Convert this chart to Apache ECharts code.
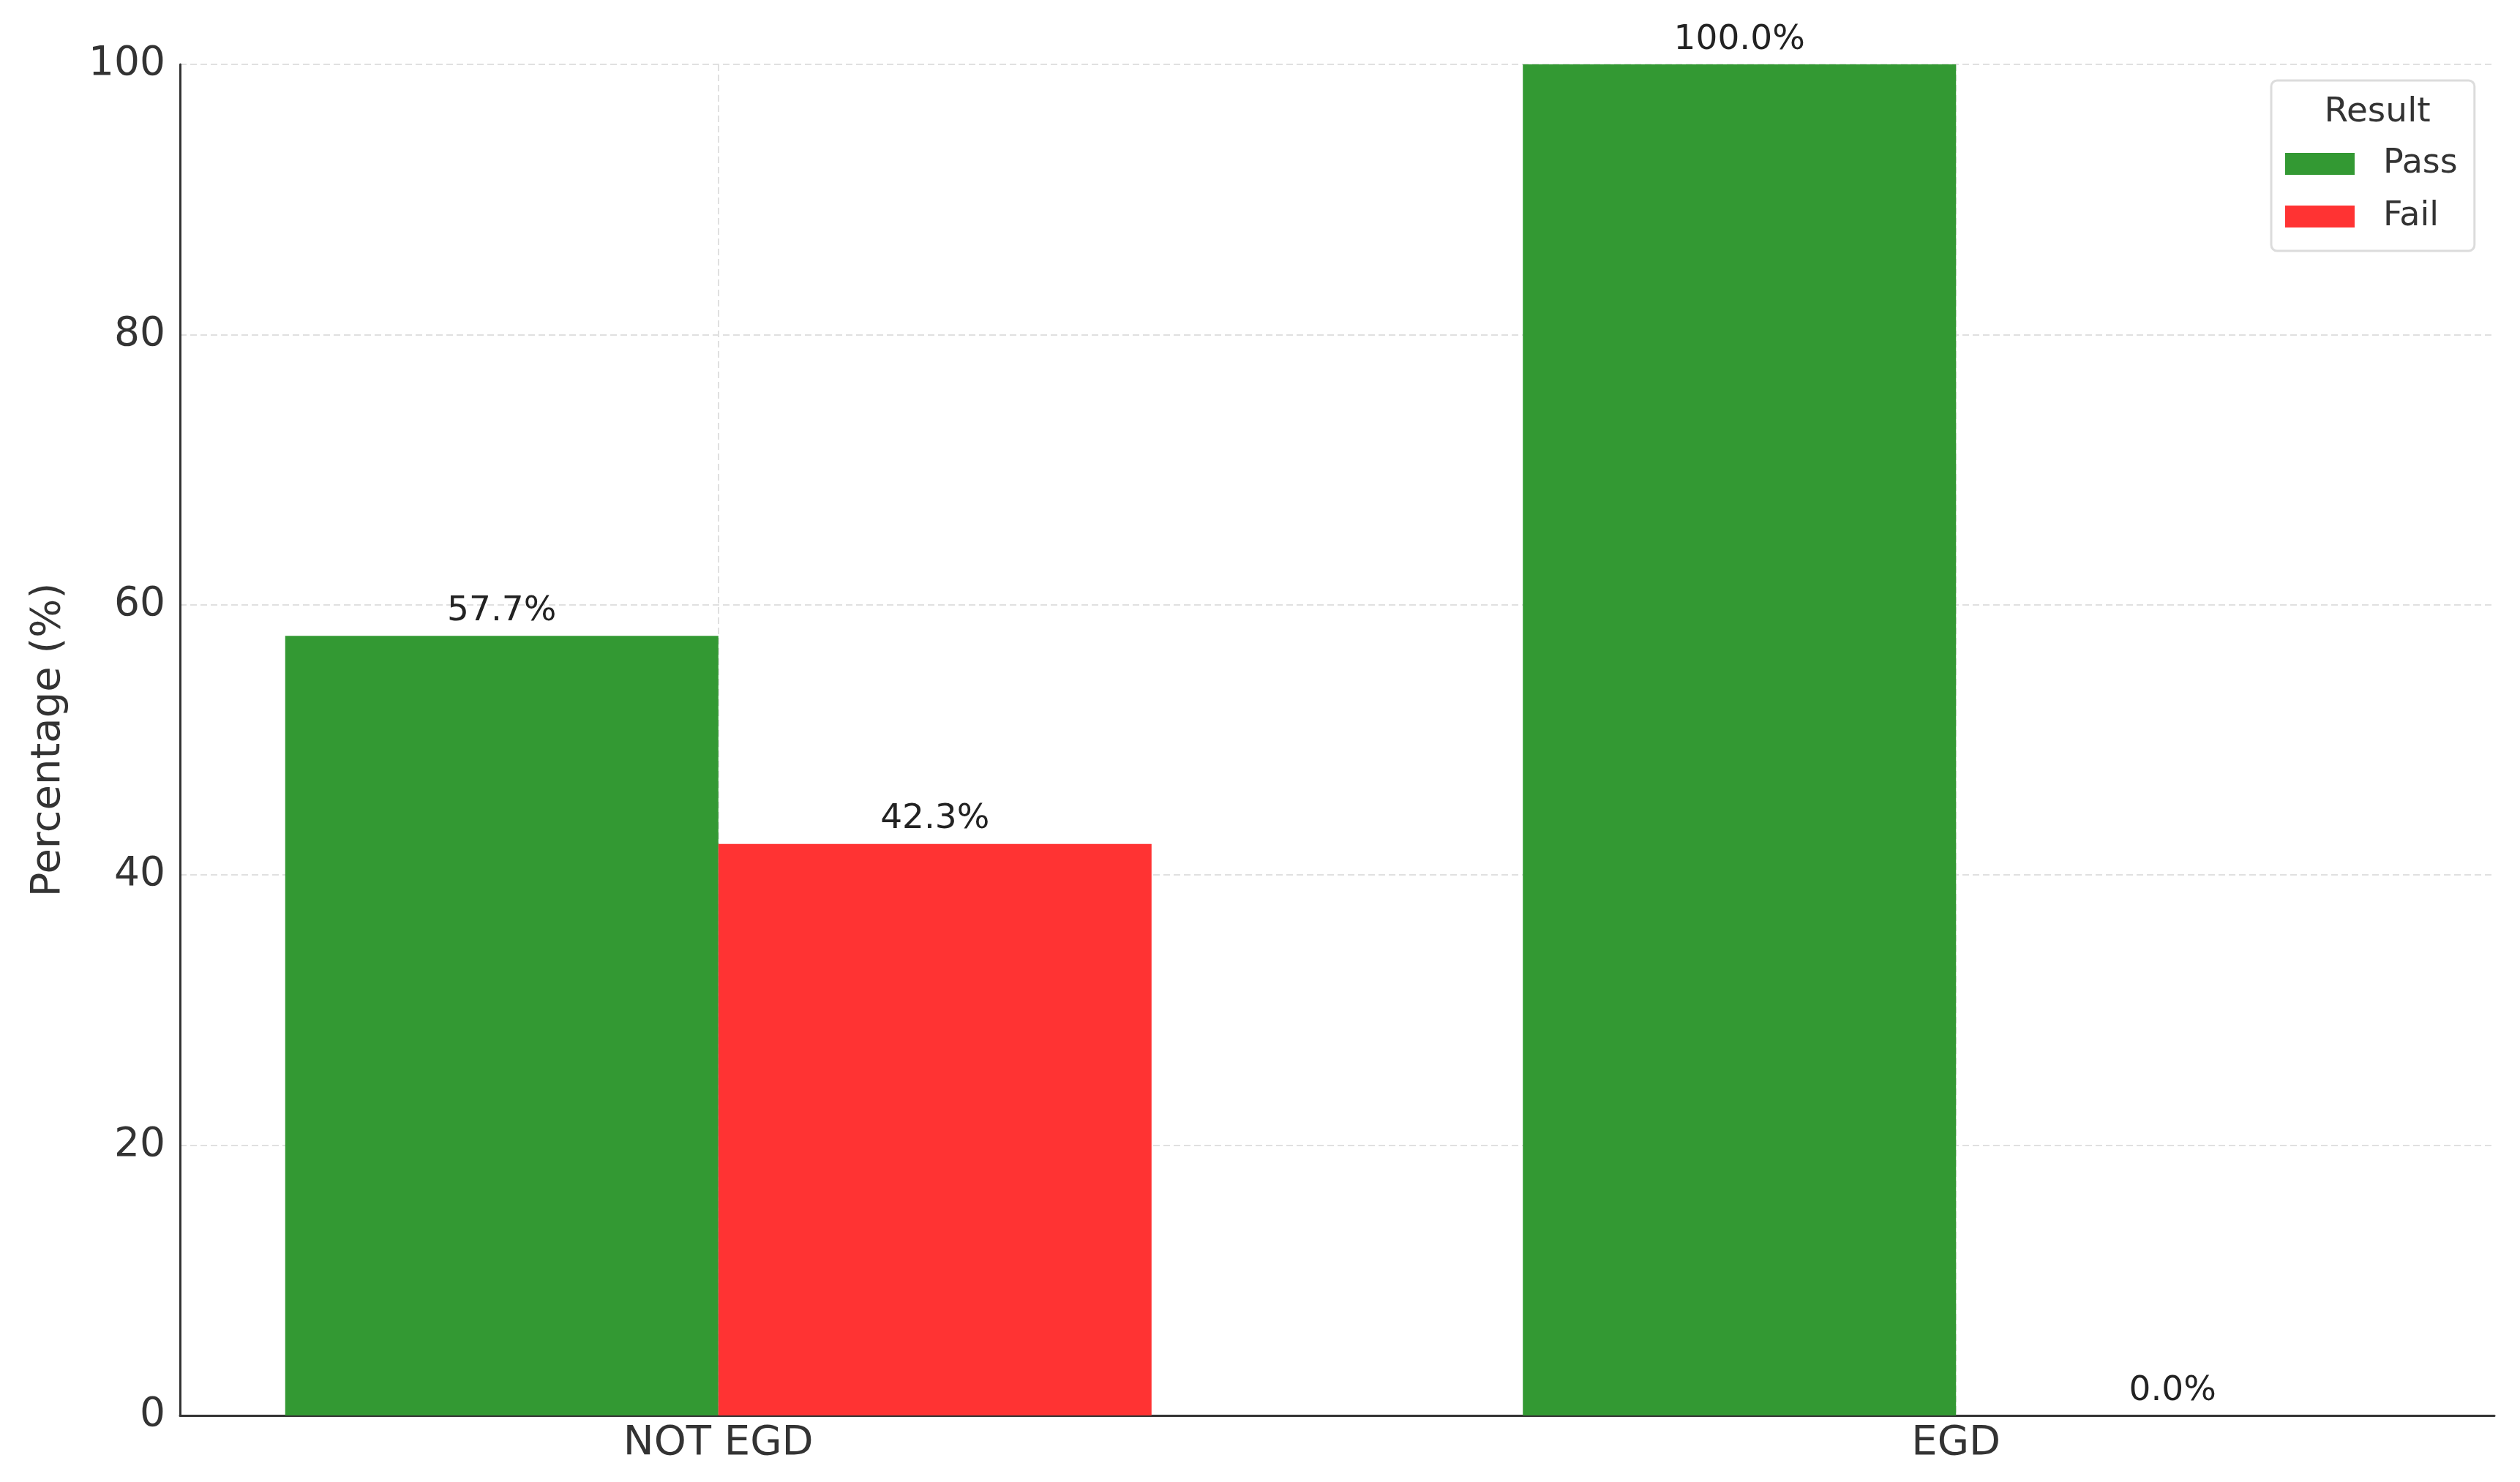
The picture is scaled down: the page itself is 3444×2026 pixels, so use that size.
<!DOCTYPE html>
<html>
<head>
<meta charset="utf-8">
<script src="https://cdn.jsdelivr.net/npm/echarts@6/dist/echarts.min.js"></script>
<style>
  html, body { margin: 0; padding: 0; background: #fff; }
  #chart { width: 3444px; height: 2026px; }
</style>
</head>
<body>
<div id="chart"></div>
<script>
// categories on the x axis
const categories = ['NOT EGD', 'EGD'];
// percentages per result
const passValues = [57.7, 100.0];
const failValues = [42.3, 0.0];
// y axis ticks
const yTicks = [0, 20, 40, 60, 80, 100];

const FONT = 'DejaVu Sans';

const myChart = echarts.init(document.getElementById('chart'));

// value x axis so the category spacing / margins match the original
const toPoints = vals => vals.map((v, i) => [i, v]);

const barLabel = {
  show: true,
  position: 'top',
  distance: 10,
  fontFamily: FONT,
  fontSize: 47,
  color: '#222',
  formatter: p => p.value[1].toFixed(1) + '%'
};

const option = {
  backgroundColor: '#fff',
  animation: false,
  title: {
    text: 'Result',
    left: 3244,
    top: 121,
    textAlign: 'center',
    textStyle: { fontFamily: FONT, fontSize: 47, fontWeight: 'normal', color: '#333', lineHeight: 56 }
  },
  legend: {
    orient: 'vertical',
    left: 3104,
    top: 110,
    padding: [89, 23, 22, 19],
    itemGap: 22,
    itemWidth: 95,
    itemHeight: 30,
    icon: 'rect',
    borderColor: '#dcdcdc',
    borderWidth: 3,
    borderRadius: 8,
    textStyle: { fontFamily: FONT, fontSize: 46, color: '#333', lineHeight: 50, padding: [0, 0, 0, 34] },
    data: ['Pass', 'Fail']
  },
  grid: { left: 246, right: 35, top: 88, bottom: 91, containLabel: false },
  xAxis: {
    type: 'value',
    min: -0.435,
    max: 1.435,
    axisLine: { show: true, onZero: false, lineStyle: { color: '#333', width: 3 } },
    axisTick: { show: false, customValues: [0, 1] },
    axisLabel: {
      customValues: [0, 1],
      margin: 10,
      fontFamily: FONT,
      fontSize: 56,
      color: '#333',
      formatter: v => categories[Math.round(v)] || ''
    },
    splitLine: { show: true, lineStyle: { color: '#e0e0e0', width: 2, type: [9, 5] } }
  },
  yAxis: {
    type: 'value',
    min: yTicks[0],
    max: yTicks[yTicks.length - 1],
    interval: 20,
    name: 'Percentage (%)',
    nameLocation: 'middle',
    nameRotate: 90,
    nameGap: 152,
    nameTextStyle: { fontFamily: FONT, fontSize: 56, color: '#333' },
    axisLine: { show: true, onZero: false, lineStyle: { color: '#333', width: 3 } },
    axisTick: { show: false },
    axisLabel: { margin: 20, fontFamily: FONT, fontSize: 55, color: '#333' },
    splitLine: { show: true, lineStyle: { color: '#e0e0e0', width: 2, type: [9, 5] } }
  },
  series: [
    {
      name: 'Pass',
      type: 'bar',
      data: toPoints(passValues),
      barWidth: '35%',
      barGap: '0%',
      itemStyle: { color: '#339933' },
      label: barLabel
    },
    {
      name: 'Fail',
      type: 'bar',
      data: toPoints(failValues),
      barWidth: '35%',
      barGap: '0%',
      itemStyle: { color: '#ff3333' },
      label: barLabel
    }
  ]
};

myChart.setOption(option);
window.addEventListener('resize', () => {
  myChart.resize();
});
</script>
</body>
</html>
